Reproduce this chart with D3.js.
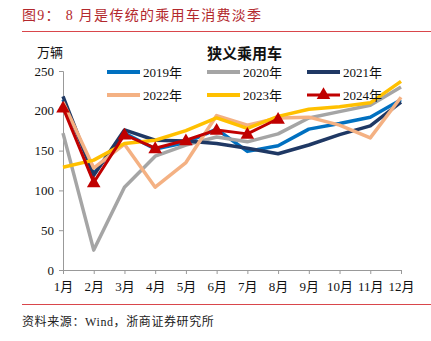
<!DOCTYPE html>
<html>
<head>
<meta charset="utf-8">
<script src="https://cdn.jsdelivr.net/npm/d3@7"></script>
<style>
  body { margin: 0; background: #fff; }
  svg { display: block; }
  text { font-family: "Liberation Serif", "Times New Roman", "Noto Sans CJK SC", serif; }
</style>
</head>
<body>
<svg width="431" height="341"></svg>
<script>
// months on x axis
var months = ["1月","2月","3月","4月","5月","6月","7月","8月","9月","10月","11月","12月"];
var yTicks = [0, 50, 100, 150, 200, 250];

// 狭义乘用车 sales, 万辆
var s2019 = [214, 121, 172, 152, 160, 177, 149, 156, 177, 184, 192, 214];
var s2020 = [172, 25, 104, 143, 157, 167, 161, 171, 191, 199, 207, 230];
var s2021 = [218, 119, 176, 163, 162, 159, 153, 146, 157, 170, 181, 211];
var s2022 = [211, 128, 158, 104, 135, 194, 182, 191, 192, 182, 166, 217];
var s2023 = [129, 138, 159, 163, 175, 191, 178, 193, 202, 205, 210, 237];
var s2024 = [204, 110, 170, 153, 163, 176, 171, 190];

var seriesNames = ["2019年","2020年","2021年","2022年","2023年","2024年"];
var seriesColors = ["#0070C0","#A5A5A5","#1F3864","#F4B183","#FFC000","#C00000"];
var allSeries = [s2019, s2020, s2021, s2022, s2023, s2024];

var svg = d3.select("svg");

// title
svg.append("text")
  .attr("x", 22).attr("y", 20)
  .attr("fill", "#B3282D")
  .style("font-size", "14px")
  .style("letter-spacing", "1.3px")
  .text("图9：  8 月是传统的乘用车消费淡季");
svg.append("line")
  .attr("x1", 22).attr("x2", 431).attr("y1", 31.5).attr("y2", 31.5)
  .attr("stroke", "#D9464B").attr("stroke-width", 1);

// bottom rule + source
svg.append("line")
  .attr("x1", 22).attr("x2", 431).attr("y1", 304.5).attr("y2", 304.5)
  .attr("stroke", "#D9464B").attr("stroke-width", 1);
svg.append("text")
  .attr("x", 22).attr("y", 326)
  .attr("fill", "#222")
  .style("font-size", "12px")
  .style("letter-spacing", "0.6px")
  .text("资料来源：Wind，浙商证券研究所");

var x = d3.scalePoint().domain(months).range([63, 401]).padding(0);
var y = d3.scaleLinear().domain([0, 250]).range([270, 71]);

// y axis
var yAxis = svg.append("g")
  .attr("transform", "translate(63,0)")
  .call(d3.axisLeft(y).tickValues(yTicks).tickSize(4).tickPadding(5));
yAxis.select(".domain").attr("stroke", "#999");
yAxis.selectAll(".tick line").attr("stroke", "#999");
yAxis.selectAll("text").style("font-size", "13px").attr("fill", "#111");

// x axis
var xAxis = svg.append("g")
  .attr("transform", "translate(0,270)")
  .call(d3.axisBottom(x).tickSize(4).tickPadding(8).tickSizeOuter(0));
xAxis.select(".domain").attr("stroke", "#999");
xAxis.selectAll(".tick line").attr("stroke", "#999");
xAxis.selectAll("text").style("font-size", "13px").attr("fill", "#111");

// unit and chart title
svg.append("text").attr("x", 37).attr("y", 57)
  .style("font-size", "13px").attr("fill", "#111").text("万辆");
svg.append("text").attr("x", 207).attr("y", 59)
  .style("font-size", "15px").style("font-weight", "bold").attr("fill", "#111")
  .text("狭义乘用车");

// lines
var line = d3.line()
  .x(function(d, i) { return x(months[i]); })
  .y(function(d) { return y(d); });

allSeries.forEach(function(s, k) {
  svg.append("path")
    .datum(s)
    .attr("d", line)
    .attr("fill", "none")
    .attr("stroke", seriesColors[k])
    .attr("stroke-width", k == 5 ? 3 : 3.5)
    .attr("stroke-linejoin", "round");
});

// triangles for 2024
var tri = d3.symbol().type(d3.symbolTriangle).size(80);
svg.selectAll(".mk")
  .data(s2024)
  .enter()
  .append("path")
  .attr("class", "mk")
  .attr("d", tri)
  .attr("transform", function(d, i) { return "translate(" + x(months[i]) + "," + (y(d) + 1) + ")"; })
  .attr("fill", "#C00000");

// legend
var legX = [107, 207, 307];
var legY = [72, 95];
seriesNames.forEach(function(name, k) {
  var lx = legX[k % 3], ly = legY[Math.floor(k / 3)];
  svg.append("line")
    .attr("x1", lx).attr("x2", lx + 33).attr("y1", ly).attr("y2", ly)
    .attr("stroke", seriesColors[k]).attr("stroke-width", k == 5 ? 3 : 4);
  if (k == 5) {
    svg.append("path").attr("d", tri)
      .attr("transform", "translate(" + (lx + 16.5) + "," + (ly) + ")")
      .attr("fill", "#C00000");
  }
  svg.append("text")
    .attr("x", lx + 36).attr("y", ly + 5)
    .style("font-size", "13px").attr("fill", "#111")
    .text(name);
});
</script>
</body>
</html>
